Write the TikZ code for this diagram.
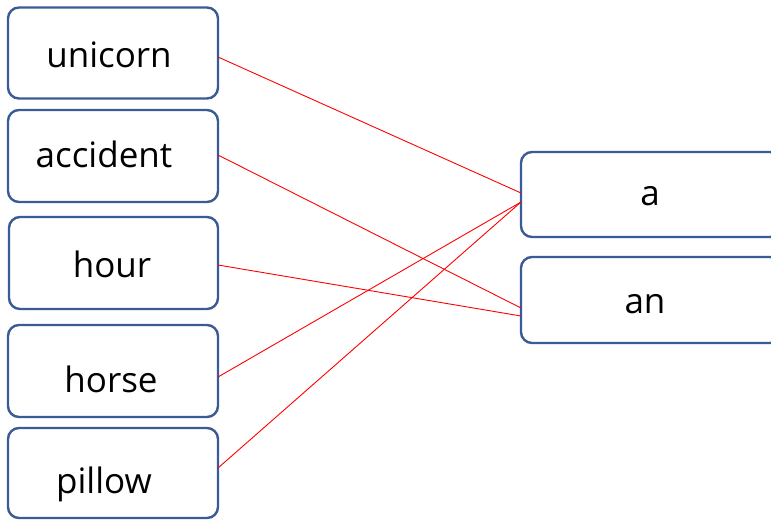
\documentclass[tikz,border=0pt]{standalone}
\usepackage{fontspec}
\setmainfont{Open Sans}
\begin{document}
\begin{tikzpicture}[x=1pt,y=-1pt,
  wordbox/.style={draw=boxblue,line width=2.4pt,rounded corners=11pt,fill=white},
  word/.style={font=\fontsize{35}{40}\selectfont,text=black,inner sep=0pt,anchor=base},
  link/.style={draw=red,line width=0.9pt}]
\definecolor{boxblue}{HTML}{3A5B96}
\useasboundingbox (0,0) rectangle (771,520);
% left boxes
\node[wordbox,minimum width=210pt,minimum height=91pt] (b1) at (113,53) {};
\node[wordbox,minimum width=210pt,minimum height=92pt] (b2) at (113,156) {};
\node[wordbox,minimum width=209pt,minimum height=92pt] (b3) at (113.5,263) {};
\node[wordbox,minimum width=210pt,minimum height=92pt] (b4) at (113,371) {};
\node[wordbox,minimum width=210pt,minimum height=90pt] (b5) at (113,473) {};
% right boxes
\node[wordbox,minimum width=260pt,minimum height=85pt] (ra) at (651,194.5) {};
\node[wordbox,minimum width=260pt,minimum height=86pt] (ran) at (651,300) {};
% words
\node[word] (t1) at (109,67) {unicorn};
\node[word] (t2) at (104,167) {accident};
\node[word] (t3) at (112,277) {hour};
\node[word] (t4) at (111,392) {horse};
\node[word] (t5) at (104,493) {pillow};
\node[word] (ta) at (650,205) {a};
\node[word] (tan) at (645,313) {an};
% connector ends
\coordinate (p1) at (218,57);
\coordinate (p2) at (218,155);
\coordinate (p3) at (218,265);
\coordinate (p4) at (218,377);
\coordinate (p5) at (218,468);
\coordinate (qa1) at (521,193);
\coordinate (qa2) at (521,202);
\coordinate (qn1) at (521,308);
\coordinate (qn2) at (521,316);
\draw[link] (p1) -- (qa1);
\draw[link] (p2) -- (qn1);
\draw[link] (p3) -- (qn2);
\draw[link] (p4) -- (qa2);
\draw[link] (p5) -- (qa2);
\end{tikzpicture}
\end{document}
